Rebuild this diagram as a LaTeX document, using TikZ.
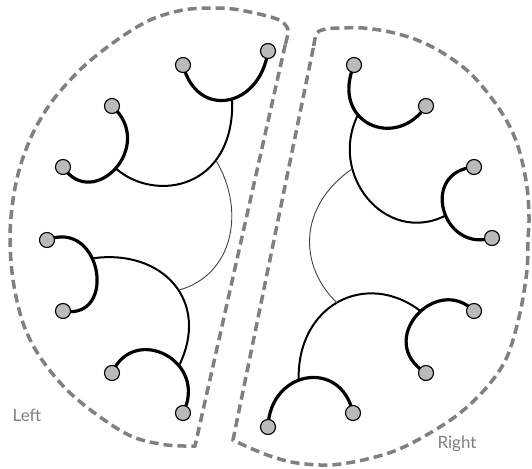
\documentclass[tikz,border=0pt]{standalone}
\usepackage{fontspec}
\setmainfont{Lato}
\usetikzlibrary{backgrounds}
\begin{document}
\begin{tikzpicture}[x=1pt,y=-1pt,
  leaf/.style={circle, draw=black, line width=1.1pt, fill=black!27, minimum size=15pt, inner sep=0pt},
  twig/.style={line width=3.2pt},
  branch/.style={line width=2pt},
  rootarc/.style={line width=0.9pt, draw=black!75},
  region/.style={draw=gray, line width=3.5pt, dash pattern=on 9pt off 5pt},
  lbl/.style={text=gray, font=\fontsize{17}{20}\selectfont}]
\useasboundingbox (0,0) rectangle (532,468);
% dashed regions
\draw[region] plot[smooth, tension=0.55] coordinates {(285.4,44) (288,30) (281,21) (267,16) (250,12) (233,9) (213,8) (183,10) (150,20) (117,40) (83,67) (53,100) (33,133) (20,167) (13,200) (10,237) (13,280) (23,323) (40,357) (67,390) (100,417) (133,437) (167,445) (195,446)} -- cycle;
\draw[region] plot[smooth, tension=0.55] coordinates {(313.7,46) (317,33) (326,29) (340,28) (363,28) (390,32) (417,40) (443,53) (470,73) (493,100) (510,127) (520,153) (527,187) (529,217) (528,240) (527,270) (520,313) (507,357) (487,387) (460,413) (430,433) (397,450) (363,460) (330,465) (297,463) (273,457) (250,448) (233,440)} -- cycle;
% leaves
\node[leaf] (L1) at (183,65) {};
\node[leaf] (L2) at (268,51) {};
\node[leaf] (L3) at (112,106) {};
\node[leaf] (L4) at (63,167) {};
\node[leaf] (L5) at (47,240) {};
\node[leaf] (L6) at (63,311) {};
\node[leaf] (L7) at (112,373) {};
\node[leaf] (L8) at (183,413) {};
\node[leaf] (R1) at (354,65) {};
\node[leaf] (R2) at (426,106) {};
\node[leaf] (R3) at (474,167) {};
\node[leaf] (R4) at (492,238) {};
\node[leaf] (R5) at (474,311) {};
\node[leaf] (R6) at (426,373) {};
\node[leaf] (R7) at (353,413) {};
\node[leaf] (R8) at (268,427) {};
\node[lbl] (left) at (27,415) {Left};
\node[lbl] (right) at (457,444) {Right};
\begin{scope}[on background layer]
% left tree
\draw[twig] (L1.center) .. controls +(14,55) and +(-8,57) .. (L2.center) coordinate[pos=0.54] (J12);
\draw[twig] (L3.center) .. controls +(45,40) and +(30,45) .. (L4.center) coordinate[pos=0.5] (J34);
\draw[twig] (L5.center) .. controls +(55,-22) and +(55,10) .. (L6.center) coordinate[pos=0.4] (J56);
\draw[twig] (L7.center) .. controls +(22,-50) and +(26,-52) .. (L8.center) coordinate[pos=0.64] (J78);
\draw[branch] (J34) .. controls +(40,35) and +(3,90) .. (J12) coordinate[pos=0.7] (T1a);
\draw[branch] (J56) .. controls +(70,-10) and +(32,-65) .. (J78) coordinate[pos=0.55] (T1b);
\draw[rootarc] (T1a) .. controls +(30,50) and +(55,-15) .. (T1b);
% right tree
\draw[twig] (R1.center) .. controls +(-24,58) and +(-30,45) .. (R2.center) coordinate[pos=0.37] (K12);
\draw[twig] (R3.center) .. controls +(-55,5) and +(-50,15) .. (R4.center) coordinate[pos=0.55] (K34);
\draw[twig] (R5.center) .. controls +(-38,-38) and +(-52,-32) .. (R6.center) coordinate[pos=0.45] (K56);
\draw[twig] (R7.center) .. controls +(-12,-55) and +(2,-57) .. (R8.center) coordinate[pos=0.57] (K78);
\draw[branch] (K12) .. controls +(-30,60) and +(-60,30) .. (K34) coordinate[pos=0.3] (TRa);
\draw[branch] (K78) .. controls +(-2,-75) and +(-55,-42) .. (K56) coordinate[pos=0.49] (TRb);
\draw[rootarc] (TRa) .. controls +(-55,38) and +(-38,-36) .. (TRb);
\end{scope}
\end{tikzpicture}
\end{document}
